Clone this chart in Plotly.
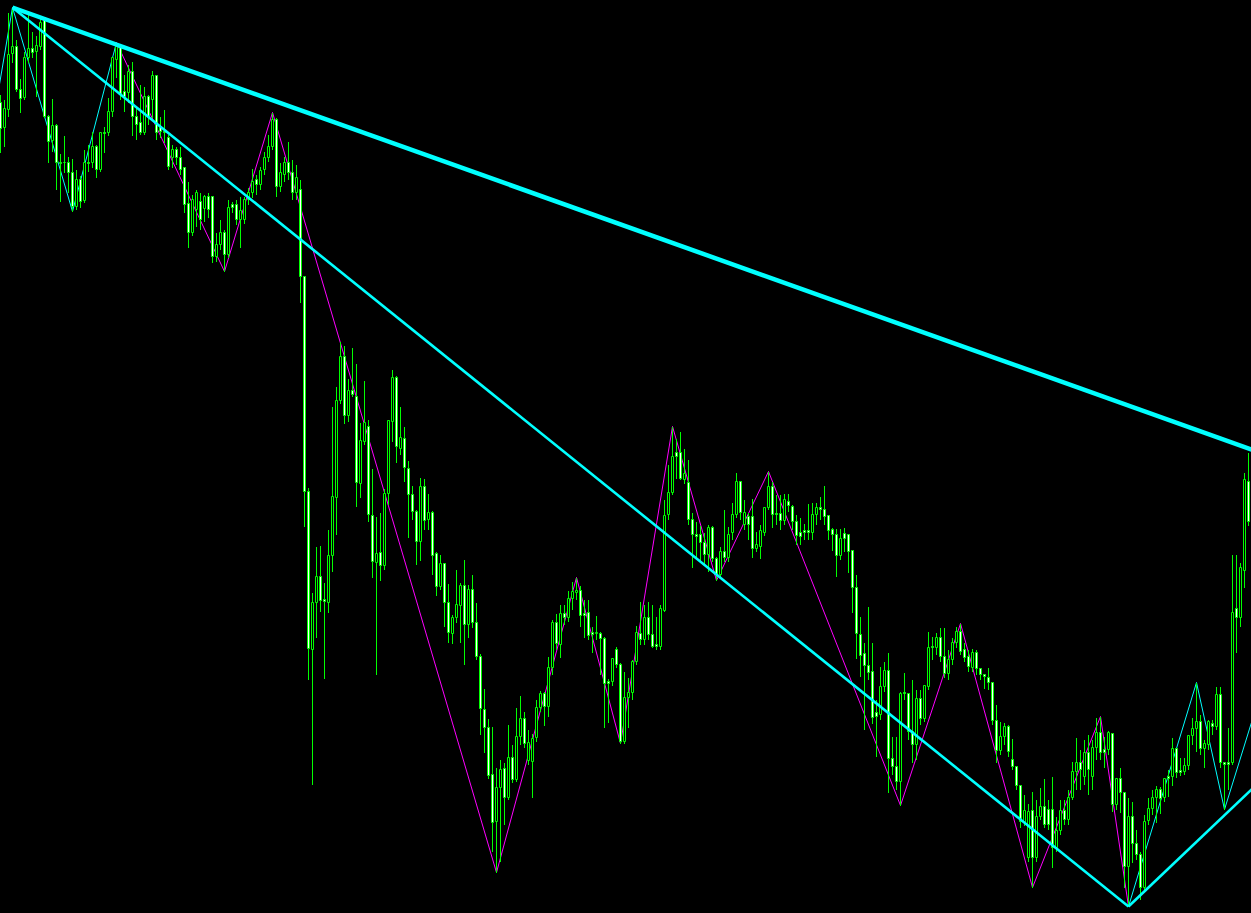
import plotly.graph_objects as go

# Candle values are chart levels (top of chart = 0, bottom = 913)
open_ = [
    103,128,110,54,47,90,98,58,49,52,
    47,18,117,141,126,163,163,163,173,207,
    180,201,163,163,147,170,133,133,112,60,
    46,92,93,72,117,123,133,97,100,76,
    128,132,138,158,150,158,168,204,233,210,
    202,209,197,197,257,245,233,255,205,205,
    220,220,200,193,180,185,170,158,147,120,
    187,175,163,173,193,190,277,492,650,603,
    577,600,603,556,498,401,357,416,391,397,
    484,442,427,516,563,553,566,494,422,378,
    449,439,469,495,512,542,487,520,513,554,
    587,564,603,634,618,606,586,625,590,623,
    657,710,728,775,822,788,769,798,758,780,
    737,719,761,762,738,708,694,707,668,623,
    645,614,618,599,593,591,614,613,633,634,
    634,639,682,682,650,665,742,698,693,662,
    634,640,618,635,645,647,611,515,493,453,
    453,480,483,520,535,535,543,555,528,559,
    575,552,558,533,515,482,525,517,517,549,
    547,533,508,487,514,514,521,502,507,522,
    533,531,531,533,515,508,510,516,530,535,
    556,534,535,551,588,635,654,666,672,713,
    715,687,671,759,767,782,693,694,732,745,
    699,719,687,647,648,638,657,674,660,643,
    632,650,657,668,653,669,675,678,683,721,
    751,737,727,760,767,786,823,858,811,858,
    817,807,810,810,848,831,811,820,798,772,
    763,777,753,777,748,733,750,750,734,805,
    779,793,867,817,844,855,888,821,809,798,
    790,798,777,777,749,771,772,766,736,729,
    722,749,745,724,727,695,763,763,763,609,
    618,571,482,
]
high = [
    95,100,13,8,40,79,52,15,32,36,
    18,17,115,99,124,154,136,157,159,170,
    176,150,145,132,145,132,127,98,57,43,
    44,75,65,62,108,85,87,95,71,75,
    117,110,135,145,147,147,167,182,195,190,
    193,195,193,196,233,220,230,200,202,200,
    197,197,188,169,175,167,152,135,113,118,
    163,157,142,160,165,180,276,488,593,547,
    546,583,530,407,387,342,346,379,348,364,
    423,381,420,469,517,513,489,420,370,376,
    407,427,461,486,510,478,479,494,511,552,
    555,563,584,615,570,583,560,585,575,603,
    654,689,719,727,768,760,763,725,745,708,
    696,712,730,734,700,691,692,657,620,614,
    605,605,591,582,578,586,600,600,627,616,
    632,637,679,658,647,663,672,678,660,626,
    602,605,602,605,617,605,500,465,427,439,
    432,449,460,513,522,526,533,525,526,557,
    547,510,527,503,473,481,500,513,499,532,
    525,507,472,482,495,495,494,494,505,515,
    518,524,504,503,503,497,486,515,528,529,
    529,528,534,550,575,617,643,607,643,700,
    667,662,653,737,737,692,673,693,680,690,
    690,685,632,637,633,628,628,650,638,627,
    624,643,650,649,650,668,674,668,682,705,
    722,723,725,739,766,785,795,804,792,800,
    788,779,800,777,817,800,800,790,762,738,
    750,740,735,740,718,717,737,731,733,778,
    768,792,798,802,830,852,815,798,790,786,
    787,778,770,738,748,758,758,735,718,683,
    715,740,720,720,687,687,763,728,555,555,
    563,473,453,
]
low = [
    153,147,117,63,92,113,100,63,58,97,
    50,118,163,152,190,202,173,193,212,210,
    208,203,172,168,178,172,153,136,117,78,
    100,112,103,136,140,135,135,125,118,140,
    138,143,170,168,165,175,213,248,236,227,
    230,222,218,263,262,250,272,258,213,225,
    248,224,205,198,195,190,175,162,150,197,
    192,182,180,200,200,303,527,680,785,638,
    612,679,613,572,535,404,424,422,397,507,
    498,445,522,578,675,581,570,505,442,463,
    455,482,538,520,565,561,530,530,575,596,
    590,627,643,644,623,643,665,638,628,660,
    735,753,779,852,873,862,825,800,783,782,
    745,748,765,798,742,712,726,717,675,650,
    658,625,622,610,600,627,638,640,653,640,
    675,728,723,686,668,744,744,728,700,665,
    645,645,640,648,650,650,612,520,495,479,
    480,484,525,568,557,562,565,572,562,581,
    578,562,562,540,518,520,530,540,558,552,
    559,536,510,528,525,530,525,512,530,545,
    545,540,540,540,525,520,525,540,551,577,
    560,552,573,613,659,677,730,680,724,757,
    720,692,793,775,790,806,700,740,763,760,
    725,722,690,660,655,662,678,680,665,648,
    655,662,672,672,675,680,689,690,725,763,
    755,745,757,770,790,828,826,862,888,862,
    820,828,830,868,852,835,825,825,800,790,
    790,785,795,790,760,760,768,755,812,810,
    813,888,907,863,860,900,892,825,815,823,
    814,802,797,786,778,776,775,770,745,752,
    755,768,750,735,730,768,810,790,765,653,
    627,588,526,
]
close = [
    129,109,55,47,90,99,58,49,53,46,
    23,117,142,126,163,164,163,173,207,180,
    202,163,164,147,170,133,134,112,58,47,
    95,97,72,117,125,133,97,117,76,133,
    132,133,167,150,158,170,205,233,200,193,
    220,197,210,257,245,233,255,208,208,220,
    211,200,193,182,185,171,158,147,120,187,
    173,163,173,193,178,277,492,649,603,577,
    601,602,556,497,401,357,416,391,395,483,
    441,423,515,562,554,566,494,421,378,447,
    438,468,495,512,542,487,521,513,556,587,
    564,603,633,618,605,586,625,590,623,657,
    709,728,776,823,788,770,798,758,780,737,
    719,744,743,739,708,694,707,668,623,644,
    614,618,599,592,591,616,616,636,635,633,
    639,684,684,659,665,742,698,693,662,633,
    640,618,635,647,647,609,516,493,457,457,
    479,474,520,535,537,543,555,528,559,575,
    552,558,535,515,482,513,513,525,549,545,
    531,508,487,515,515,521,500,506,522,536,
    537,533,533,515,508,510,517,531,535,556,
    539,539,552,588,634,656,666,673,718,717,
    687,671,759,767,782,694,694,732,745,699,
    719,686,648,648,638,657,674,660,643,632,
    652,658,667,653,669,675,677,683,721,751,
    737,727,752,767,786,822,811,812,858,817,
    807,825,825,848,831,811,820,798,772,763,
    770,753,770,748,733,753,753,733,805,779,
    793,867,817,844,855,888,822,809,798,790,
    799,779,779,749,773,773,766,736,729,722,
    749,744,722,727,695,763,765,765,613,618,
    568,480,522,
]
bar_index = list(range(len(open_)))

# ZigZag pivots (bar index, level)
zz_cyan_left_idx = [-2, 3, 18, 29]
zz_cyan_left_lvl = [126, 8, 212, 43]
zz_magenta_idx = [29, 56, 68, 124, 144, 155, 168, 179, 192, 225, 240, 258, 275, 282]
zz_magenta_lvl = [43, 272, 113, 873, 578, 744, 427, 581, 472, 806, 624, 888, 717, 907]
zz_cyan_right_idx = [282, 299, 306, 316]
zz_cyan_right_lvl = [907, 683, 810, 681]

# Trend lines (bar index, level)
trend_a_idx = [3, 320]
trend_a_lvl = [8, 460.3]
trend_b_idx = [3, 282]
trend_b_lvl = [8, 907]
trend_c_idx = [282, 320]
trend_c_lvl = [907, 762.4]

LIME = "#00FF00"
CYAN = "#00FFFF"
MAGENTA = "#FF00FF"

fig = go.Figure()

# Wicks (high-low range), drawn first so bodies sit on top
fig.add_trace(go.Bar(
    x=bar_index,
    base=high,
    y=[l - h for h, l in zip(high, low)],
    width=0.25,
    marker=dict(color=LIME, line=dict(width=0)),
    hoverinfo="skip", showlegend=False,
))

# Bodies (open-close). Axis is reversed (level 0 at top): close > open means a falling candle
body_base = [min(o, c) for o, c in zip(open_, close)]
body_size = [max(abs(c - o), 0.01) for o, c in zip(open_, close)]
body_fill = ["#FFFFFF" if c > o else "#000000" for o, c in zip(open_, close)]
fig.add_trace(go.Bar(
    x=bar_index,
    base=body_base,
    y=body_size,
    width=0.5,
    marker=dict(color=body_fill, line=dict(color=LIME, width=1)),
    hoverinfo="skip", showlegend=False,
))

shapes = []
def add_zigzag(idx, lvl, color):
    for k in range(len(idx) - 1):
        shapes.append(dict(type="line", xref="x", yref="y",
                           x0=idx[k], y0=lvl[k], x1=idx[k + 1], y1=lvl[k + 1],
                           line=dict(color=color, width=1), layer="below"))

add_zigzag(zz_cyan_left_idx, zz_cyan_left_lvl, CYAN)
add_zigzag(zz_magenta_idx, zz_magenta_lvl, MAGENTA)
add_zigzag(zz_cyan_right_idx, zz_cyan_right_lvl, CYAN)

for xs, ys, w in [(trend_a_idx, trend_a_lvl, 4.5),
                  (trend_b_idx, trend_b_lvl, 2.6),
                  (trend_c_idx, trend_c_lvl, 2.6)]:
    fig.add_trace(go.Scatter(x=xs, y=ys, mode="lines",
                             line=dict(color=CYAN, width=w),
                             hoverinfo="skip", showlegend=False))

fig.update_layout(
    width=1251, height=913,
    margin=dict(l=0, r=0, t=0, b=0, pad=0),
    paper_bgcolor="#000000", plot_bgcolor="#000000",
    showlegend=False,
    barmode="overlay", bargap=0, bargroupgap=0,
    shapes=shapes,
    xaxis=dict(visible=False, range=[-0.125, 312.625], fixedrange=True),
    yaxis=dict(visible=False, range=[913.5, 0.5], fixedrange=True),
)

fig.write_html(
    "out.html",
    config={"displayModeBar": False},
    post_script="document.body.style.margin='0';document.body.style.background='#000';",
)
